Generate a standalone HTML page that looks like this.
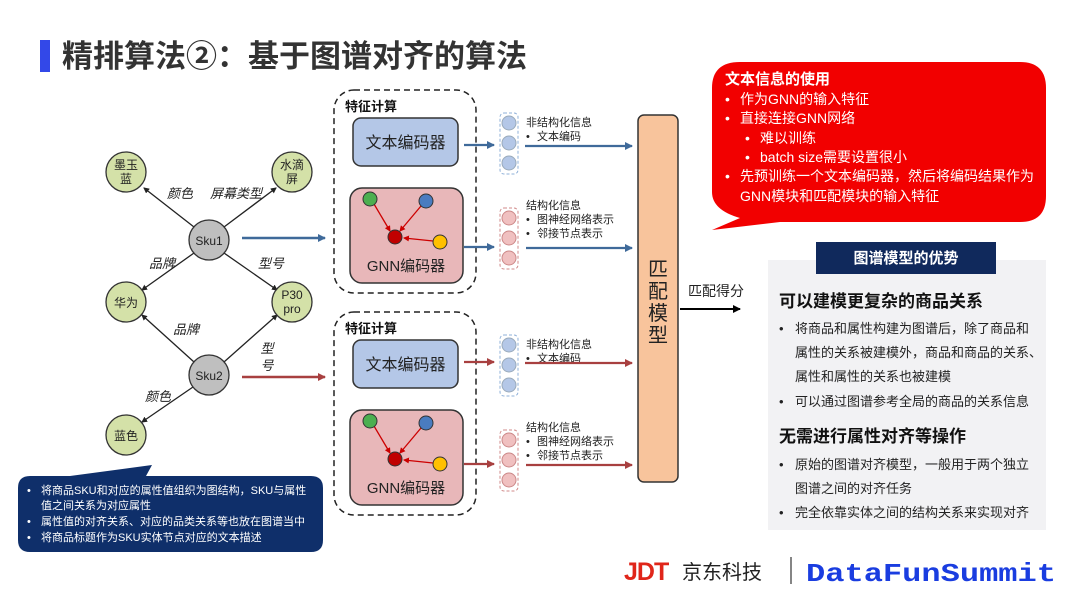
<!DOCTYPE html>
<html><head><meta charset="utf-8"><style>
html,body{margin:0;padding:0;background:#fff;}
svg{display:block;font-family:"Liberation Sans","Noto Sans CJK SC",sans-serif;}
</style></head><body>
<svg width="1080" height="608" viewBox="0 0 1080 608" xmlns="http://www.w3.org/2000/svg">
<defs>
<marker id="ab" markerWidth="8" markerHeight="8" refX="7" refY="4" orient="auto" markerUnits="userSpaceOnUse"><path d="M0,0 L8,4 L0,8 z" fill="#3f6a9a"/></marker>
<marker id="ar" markerWidth="8" markerHeight="8" refX="7" refY="4" orient="auto" markerUnits="userSpaceOnUse"><path d="M0,0 L8,4 L0,8 z" fill="#a84040"/></marker>
<marker id="ak" markerWidth="8" markerHeight="8" refX="7" refY="4" orient="auto" markerUnits="userSpaceOnUse"><path d="M0,0 L8,4 L0,8 z" fill="#000"/></marker>
<marker id="ak2" markerWidth="6" markerHeight="6" refX="5" refY="3" orient="auto" markerUnits="userSpaceOnUse"><path d="M0,0 L6,3 L0,6 z" fill="#222"/></marker>
<marker id="ared" markerWidth="6" markerHeight="6" refX="5" refY="3" orient="auto" markerUnits="userSpaceOnUse"><path d="M0,0 L6,3 L0,6 z" fill="#cc0000"/></marker>
</defs>

<text x="62" y="67" font-size="31" font-weight="bold" fill="#333">精排算法②：基于图谱对齐的算法</text>
<rect x="40" y="40" width="10" height="32" fill="#3348e8"/>

<g stroke="#222" stroke-width="1.3" marker-end="url(#ak2)">
<line x1="194" y1="227" x2="144" y2="188"/>
<line x1="224" y1="227" x2="276" y2="188"/>
<line x1="194" y1="253" x2="142" y2="290"/>
<line x1="224" y1="253" x2="277" y2="290"/>
<line x1="194" y1="362" x2="142" y2="315"/>
<line x1="224" y1="362" x2="277" y2="315"/>
<line x1="193" y1="387" x2="142" y2="422"/>
</g>
<g fill="#d4e1a8" stroke="#333" stroke-width="1.3">
<circle cx="126" cy="172" r="20"/><circle cx="292" cy="172" r="20"/>
<circle cx="126" cy="302" r="20"/><circle cx="292" cy="302" r="20"/>
<circle cx="126" cy="435" r="20"/>
</g>
<g fill="#bfbfbf" stroke="#333" stroke-width="1.3">
<circle cx="209" cy="240" r="20"/><circle cx="209" cy="375" r="20"/>
</g>
<g font-size="12" fill="#222" text-anchor="middle">
<text x="126" y="169">墨玉</text><text x="126" y="183">蓝</text>
<text x="292" y="169">水滴</text><text x="292" y="183">屏</text>
<text x="209" y="245">Sku1</text><text x="209" y="380">Sku2</text>
<text x="126" y="307">华为</text>
<text x="292" y="299">P30</text><text x="292" y="313">pro</text>
<text x="126" y="440">蓝色</text>
</g>
<g font-size="13" fill="#222" font-style="italic" text-anchor="middle">
<text x="180" y="198">颜色</text><text x="236" y="198">屏幕类型</text>
<text x="162" y="268">品牌</text><text x="271" y="268">型号</text>
<text x="186" y="334">品牌</text><text x="267" y="353">型</text><text x="267" y="370">号</text>
<text x="158" y="401">颜色</text>
</g>
<line x1="242" y1="238" x2="325" y2="238" stroke="#3f6a9a" stroke-width="2.5" marker-end="url(#ab)"/>
<line x1="242" y1="377" x2="325" y2="377" stroke="#a84040" stroke-width="2.5" marker-end="url(#ar)"/>

<g id="grp">
<rect x="334" y="90" width="142" height="203" rx="20" fill="none" stroke="#222" stroke-width="1.5" stroke-dasharray="6,4"/>
<text x="345" y="111" font-size="13" font-weight="bold" fill="#111">特征计算</text>
<rect x="353" y="118" width="105" height="48" rx="8" fill="#b4c7e7" stroke="#333" stroke-width="1.5"/>
<text x="405.5" y="148" font-size="16" text-anchor="middle" fill="#222">文本编码器</text>
<rect x="350" y="188" width="113" height="95" rx="12" fill="#e8b7b9" stroke="#333" stroke-width="1.5"/>
<g stroke="#cc0000" stroke-width="1.3" marker-end="url(#ared)">
<line x1="374" y1="204" x2="390" y2="231"/>
<line x1="421" y1="206" x2="400" y2="231"/>
<line x1="433" y1="241" x2="404" y2="238"/>
</g>
<circle cx="370" cy="199" r="7" fill="#4caf50" stroke="#333"/>
<circle cx="426" cy="201" r="7" fill="#4a7cc0" stroke="#333"/>
<circle cx="395" cy="237" r="7" fill="#c00000" stroke="#333"/>
<circle cx="440" cy="242" r="7" fill="#ffc000" stroke="#333"/>
<text x="406" y="271" font-size="15" text-anchor="middle" fill="#222">GNN编码器</text>
<rect x="500" y="113" width="18" height="61" rx="4" fill="none" stroke="#8fb0d8" stroke-dasharray="3,2"/>
<circle cx="509" cy="123" r="7" fill="#b4c7e7" stroke="#9ab"/>
<circle cx="509" cy="143" r="7" fill="#b4c7e7" stroke="#9ab"/>
<circle cx="509" cy="163" r="7" fill="#b4c7e7" stroke="#9ab"/>
<rect x="500" y="208" width="18" height="61" rx="4" fill="none" stroke="#d08a8a" stroke-dasharray="3,2"/>
<circle cx="509" cy="218" r="7" fill="#f0c0c0" stroke="#c88"/>
<circle cx="509" cy="238" r="7" fill="#f0c0c0" stroke="#c88"/>
<circle cx="509" cy="258" r="7" fill="#f0c0c0" stroke="#c88"/>
<g font-size="11" fill="#222">
<text x="526" y="126">非结构化信息</text><text x="526" y="140">•</text><text x="537" y="140">文本编码</text>
<text x="526" y="209">结构化信息</text><text x="526" y="223">•</text><text x="537" y="223">图神经网络表示</text><text x="526" y="237">•</text><text x="537" y="237">邻接节点表示</text>
</g>
</g>
<g stroke="#3f6a9a" stroke-width="2.2" marker-end="url(#ab)">
<line x1="464" y1="145" x2="494" y2="145"/><line x1="464" y1="247" x2="494" y2="247"/>
<line x1="525" y1="146" x2="632" y2="146"/><line x1="526" y1="248" x2="632" y2="248"/>
</g>
<use href="#grp" transform="translate(0,222)"/>
<g stroke="#a84040" stroke-width="2.2" marker-end="url(#ar)">
<line x1="464" y1="362" x2="494" y2="362"/><line x1="464" y1="464" x2="494" y2="464"/>
<line x1="525" y1="363" x2="632" y2="363"/><line x1="526" y1="465" x2="632" y2="465"/>
</g>

<rect x="638" y="115" width="40" height="367" rx="6" fill="#f8c49c" stroke="#333" stroke-width="1.5"/>
<g font-size="20" text-anchor="middle" fill="#222">
<text x="658" y="276">匹</text><text x="658" y="298">配</text><text x="658" y="320">模</text><text x="658" y="342">型</text>
</g>
<line x1="680" y1="309" x2="740" y2="309" stroke="#000" stroke-width="2" marker-end="url(#ak)"/>
<text x="688" y="296" font-size="14" fill="#222">匹配得分</text>

<path d="M740,62 H1020 Q1046,62 1046,88 V196 Q1046,222 1020,222 H780 L712,230 L740,218 Q712,210 712,192 V88 Q712,62 740,62 z" fill="#f20000"/>
<g fill="#fff" font-size="14">
<text x="725" y="84" font-size="15" font-weight="bold">文本信息的使用</text>
<text x="725" y="104">•</text><text x="740" y="104">作为GNN的输入特征</text>
<text x="725" y="123">•</text><text x="740" y="123">直接连接GNN网络</text>
<text x="745" y="143">•</text><text x="760" y="143">难以训练</text>
<text x="745" y="162">•</text><text x="760" y="162">batch size需要设置很小</text>
<text x="725" y="181">•</text><text x="740" y="181">先预训练一个文本编码器，然后将编码结果作为</text>
<text x="740" y="201">GNN模块和匹配模块的输入特征</text>
</g>

<rect x="768" y="260" width="278" height="270" fill="#f2f2f4"/>
<rect x="816" y="242" width="180" height="32" fill="#10295c"/>
<text x="906" y="263" font-size="15" font-weight="bold" fill="#fff" text-anchor="middle">图谱模型的优势</text>
<g fill="#222" font-size="13">
<text x="779" y="307" font-size="17" font-weight="bold" fill="#111">可以建模更复杂的商品关系</text>
<text x="779" y="333">•</text><text x="795" y="333">将商品和属性构建为图谱后，除了商品和</text>
<text x="795" y="357">属性的关系被建模外，商品和商品的关系、</text>
<text x="795" y="381">属性和属性的关系也被建模</text>
<text x="779" y="406">•</text><text x="795" y="406">可以通过图谱参考全局的商品的关系信息</text>
<text x="779" y="442" font-size="17" font-weight="bold" fill="#111">无需进行属性对齐等操作</text>
<text x="779" y="469">•</text><text x="795" y="469">原始的图谱对齐模型，一般用于两个独立</text>
<text x="795" y="493">图谱之间的对齐任务</text>
<text x="779" y="517">•</text><text x="795" y="517">完全依靠实体之间的结构关系来实现对齐</text>
</g>

<path d="M30,476 H70 L152,465 L146,476 H311 Q323,476 323,488 V540 Q323,552 311,552 H30 Q18,552 18,540 V488 Q18,476 30,476 z" fill="#0f2f6a"/>
<g fill="#fff" font-size="11">
<text x="27" y="494">•</text><text x="41" y="494">将商品SKU和对应的属性值组织为图结构，SKU与属性</text>
<text x="41" y="509">值之间关系为对应属性</text>
<text x="27" y="525">•</text><text x="41" y="525">属性值的对齐关系、对应的品类关系等也放在图谱当中</text>
<text x="27" y="541">•</text><text x="41" y="541">将商品标题作为SKU实体节点对应的文本描述</text>
</g>

<text x="624" y="580" font-size="25" font-weight="bold" fill="#e0261a" letter-spacing="-1">JDT</text>
<text x="682" y="579" font-size="20" fill="#222">京东科技</text>
<line x1="791" y1="557" x2="791" y2="584" stroke="#333" stroke-width="1.2"/>
<text x="806" y="581" font-size="26" font-weight="bold" fill="#1a3de0" font-family="Liberation Mono, monospace" textLength="250" lengthAdjust="spacingAndGlyphs">DataFunSummit</text>
</svg>
</body></html>
